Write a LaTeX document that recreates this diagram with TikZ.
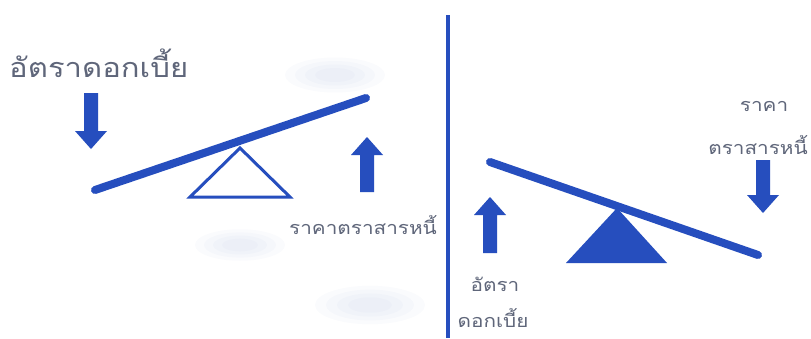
\documentclass[tikz,border=0pt]{standalone}
\usepackage{fontspec}
\newfontfamily\thaifont[Script=Thai,FakeStretch=1.15]{Loma}
\definecolor{beamblue}{RGB}{38,78,190}
\definecolor{txtgray}{RGB}{95,102,122}
\tikzset{
  beam/.style={draw=beamblue,line width=8pt,line cap=round},
  lbl/.style={text=txtgray,inner sep=0pt},
  small/.style={lbl,font=\thaifont\fontsize{18}{20}\selectfont},
  pics/uparr/.style={code={\fill[beamblue] (0,0) -- (16,18) -- (7,18) -- (7,#1) -- (-7,#1) -- (-7,18) -- (-16,18) -- cycle;}},
  pics/downarr/.style={code={\fill[beamblue] (0,0) -- (16,-18) -- (7,-18) -- (7,-#1) -- (-7,-#1) -- (-7,-18) -- (-16,-18) -- cycle;}},
  pics/smudge/.style={code={\foreach \s in {1,0.8,0.6,0.4}{\fill[beamblue,opacity=0.018] (0,0) ellipse ({#1*\s} and {#1*\s*0.35});}}}
}
\begin{document}
\begin{tikzpicture}[x=1pt,y=-1pt]
\useasboundingbox[fill=white] (0,0) rectangle (811,338);
% faint background smudges
\pic at (335,75) {smudge=50};
\pic at (240,245) {smudge=45};
\pic at (370,305) {smudge=55};
% divider
\coordinate (vtop) at (448,15);
\coordinate (vbot) at (448,338);
\draw[beamblue,line width=4pt] (vtop) -- (vbot);
% left seesaw
\coordinate (lb1) at (95,190);
\coordinate (lb2) at (366,98);
\draw[beamblue,line width=3pt,line join=miter] (240,148) -- (290,197) -- (190,197) -- cycle;
\draw[beam] (lb1) -- (lb2);
\pic at (91,149) {downarr=56};
\pic at (367,137) {uparr=55};
\node[lbl,font=\thaifont\fontsize{27}{30}\selectfont,anchor=west] (ir1) at (9,63) {อัตราดอกเบี้ย};
\node[small,anchor=east] (bp1) at (437,225) {ราคาตราสารหนี้};
% right seesaw
\coordinate (rb1) at (490,162);
\coordinate (rb2) at (758,255);
\fill[beamblue] (617,208) -- (667,263) -- (566,263) -- cycle;
\draw[beam] (rb1) -- (rb2);
\pic at (490,197) {uparr=56};
\pic at (763,213) {downarr=53};
\node[small] (bp2a) at (764,106) {ราคา};
\node[small] (bp2b) at (758,145) {ตราสารหนี้};
\node[small] (ir2a) at (495,284) {อัตรา};
\node[small] (ir2b) at (493,318) {ดอกเบี้ย};
\end{tikzpicture}
\end{document}
